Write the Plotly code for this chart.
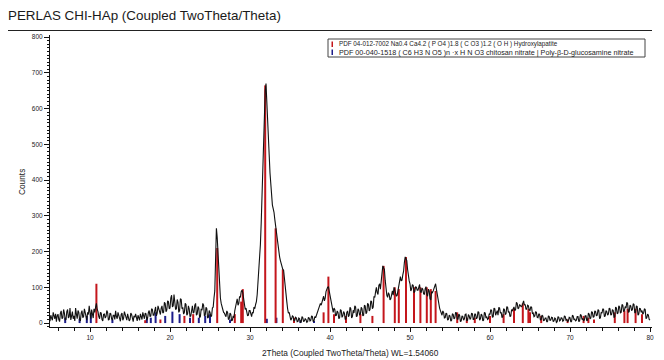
import plotly.graph_objects as go

# Scan start / step (degrees 2-theta) and measured counts, 0.1 deg step, 5-80 deg
two_theta_start = 5.0
two_theta_step = 0.1
counts = [
    5, 22, 14, 8, 30, 18, 12, 26, 4, 20,                 # 5
    25, 10, 4, 28, 34, 12, 15, 38, 28, 8,                # 6
    10, 32, 38, 14, 18, 42, 9, 20, 32, 12,               # 7
    20, 6, 42, 25, 12, 35, 30, 10, 6, 28,                # 8
    35, 15, 18, 40, 28, 12, 8, 30, 24, 48,               # 9
    20, 12, 38, 25, 14, 40, 30, 45, 55, 38,              # 10
    32, 18, 12, 30, 28, 10, 6, 24, 25, 14,               # 11
    18, 35, 30, 8, 10, 28, 26, 12, 8, 22,                # 12
    22, 10, 34, 18, 12, 30, 20, 6, 5, 24,                # 13
    28, 8, 14, 32, 24, 12, 8, 26, 18, 6,                 # 14
    10, 28, 24, 8, 4, 20, 16, 26, 12, 6,                 # 15
    22, 12, 8, 26, 18, 10, 30, 16, 12, 28,               # 16
    26, 8, 14, 30, 35, 18, 20, 40, 38, 22,               # 17
    22, 35, 45, 20, 28, 48, 40, 25, 24, 42,              # 18
    48, 28, 30, 58, 55, 32, 36, 62, 60, 40,              # 19
    42, 70, 78, 45, 48, 80, 62, 38, 40, 66,              # 20
    58, 30, 35, 68, 66, 40, 44, 25, 30, 55,              # 21
    52, 22, 26, 48, 40, 18, 20, 45, 48, 28,              # 22
    30, 50, 55, 22, 25, 46, 42, 15, 18, 40,              # 23
    36, 55, 50, 20, 22, 44, 40, 14, 16, 35,              # 24
    30, 18, 20, 42, 45, 70, 90, 180, 265, 240,           # 25
    200, 140, 95, 70, 55, 42, 38, 30, 28, 22,            # 26
    18, 34, 30, 10, 12, 28, 25, 6, 8, 20,                # 27
    15, 35, 48, 62, 68, 50, 55, 75, 72, 88,              # 28
    92, 85, 70, 52, 38, 42, 30, 20, 22, 35,              # 29
    35, 22, 18, 30, 28, 45, 40, 52, 60, 80,              # 30
    110, 140, 170, 220, 280, 350, 430, 510, 600, 650,    # 31
    670, 610, 540, 500, 470, 420, 380, 350, 330, 320,    # 32
    310, 290, 270, 255, 240, 220, 200, 185, 175, 165,    # 33
    155, 150, 148, 130, 112, 85, 60, 40, 28, 30,         # 34
    22, 8, 12, 20, 18, 5, 8, 16, 14, 4,                  # 35
    5, 14, 12, 2, 3, 18, 15, 4, 6, 12,                   # 36
    10, 2, 4, 16, 14, 6, 8, 20, 18, 4,                   # 37
    6, 18, 15, 22, 28, 35, 40, 48, 55, 50,               # 38
    60, 68, 75, 62, 70, 88, 95, 100, 102, 90,            # 39
    80, 60, 45, 35, 30, 42, 38, 20, 22, 34,              # 40
    30, 12, 15, 38, 35, 16, 20, 32, 28, 10,              # 41
    12, 30, 34, 18, 22, 44, 40, 14, 18, 36,              # 42
    28, 48, 45, 18, 20, 40, 36, 22, 25, 44,              # 43
    40, 20, 22, 50, 48, 26, 30, 55, 52, 34,              # 44
    38, 62, 60, 40, 45, 75, 72, 88, 100, 85,             # 45
    80, 105, 110, 95, 125, 140, 160, 155, 150, 120,      # 46
    95, 78, 72, 85, 80, 65, 68, 88, 90, 78,              # 47
    100, 92, 85, 75, 78, 90, 95, 115, 130, 118,          # 48
    120, 135, 145, 170, 185, 180, 175, 150, 130, 118,    # 49
    110, 90, 95, 108, 105, 85, 88, 102, 100, 92,         # 50
    92, 105, 108, 88, 85, 98, 95, 82, 80, 96,            # 51
    102, 80, 75, 95, 90, 68, 65, 88, 85, 90,             # 52
    95, 105, 110, 95, 80, 65, 55, 42, 35, 28,            # 53
    22, 34, 30, 14, 15, 28, 26, 8, 10, 22,               # 54
    20, 5, 8, 26, 24, 12, 14, 30, 28, 12,                # 55
    10, 25, 22, 4, 6, 20, 18, 8, 12, 24,                 # 56
    25, 6, 8, 24, 20, 10, 14, 28, 26, 10,                # 57
    10, 26, 24, 12, 15, 32, 30, 8, 12, 25,               # 58
    22, 6, 8, 30, 28, 14, 18, 10, 12, 26,                # 59
    24, 38, 35, 16, 18, 42, 40, 22, 28, 35,              # 60
    22, 44, 42, 28, 30, 15, 18, 40, 38, 24,              # 61
    26, 46, 44, 30, 32, 18, 20, 38, 35, 42,              # 62
    45, 35, 38, 58, 55, 40, 42, 52, 50, 46,              # 63
    48, 60, 62, 50, 52, 38, 40, 50, 48, 36,              # 64
    35, 46, 44, 26, 28, 18, 20, 32, 30, 16,              # 65
    15, 26, 24, 8, 10, 22, 20, 6, 8, 14,                 # 66
    14, 3, 5, 20, 18, 7, 9, 16, 15, 4,                   # 67
    6, 14, 12, 2, 4, 18, 16, 6, 8, 15,                   # 68
    14, 5, 7, 20, 18, 8, 10, 4, 6, 16,                   # 69
    15, 3, 5, 22, 20, 9, 11, 6, 8, 18,                   # 70
    18, 4, 6, 24, 22, 10, 12, 7, 9, 20,                  # 71
    20, 6, 8, 28, 25, 12, 14, 32, 30, 16,                # 72
    18, 34, 32, 20, 22, 38, 35, 12, 15, 30,              # 73
    28, 40, 38, 18, 20, 35, 32, 22, 25, 42,              # 74
    40, 22, 24, 38, 35, 15, 18, 45, 42, 26,              # 75
    28, 48, 45, 28, 30, 52, 50, 32, 35, 46,              # 76
    42, 58, 55, 30, 32, 50, 48, 35, 38, 54,              # 77
    52, 28, 30, 48, 46, 22, 25, 42, 40, 30,              # 78
    35, 25, 28, 40, 38, 12, 15, 25, 22, 10,              # 79
    8,                                                   # 80
]
two_theta = [round(two_theta_start + i * two_theta_step, 2) for i in range(len(counts))]

# Reference pattern PDF 04-012-7002 (hydroxylapatite): positions and scaled heights
hap_pos = [10.8, 16.9, 18.8, 21.8, 22.9, 25.9, 28.1, 28.9, 29.1, 31.9, 33.2, 34.1,
           35.5, 39.2, 39.8, 40.5, 42.0, 43.8, 45.3, 46.7, 48.1, 48.6, 49.5, 50.5, 51.3,
           52.1, 52.6, 53.2, 55.9, 57.1, 58.1, 60.0, 61.7, 63.0, 64.1, 64.8, 65.0, 66.4,
           69.7, 71.7, 72.3, 73.0, 75.6, 76.8, 77.2, 78.2, 79.0]
hap_int = [110, 8, 10, 20, 25, 210, 25, 60, 95, 665, 265, 150,
           15, 30, 130, 25, 20, 25, 20, 160, 100, 95, 185, 100, 100,
           100, 95, 90, 30, 15, 15, 20, 25, 40, 55, 40, 30, 20,
           10, 20, 15, 10, 30, 35, 40, 40, 25]

# Reference pattern PDF 00-040-1518 (chitosan nitrate)
chi_pos = [6.9, 8.7, 9.6, 10.1, 12.8, 17.1, 17.6, 18.2, 19.4, 20.3, 21.2, 22.5,
           23.6, 24.4, 25.0, 27.5, 32.1, 33.3, 36.3, 38.0]
chi_int = [15, 12, 20, 25, 10, 12, 15, 30, 20, 32, 25, 15,
           15, 20, 25, 10, 12, 15, 8, 6]

legend_lines = [
    "PDF 04-012-7002 Na0.4 Ca4.2 ( P O4 )1.8 ( C O3 )1.2 ( O H ) Hydroxylapatite",
    "PDF 00-040-1518 ( C6 H3 N O5 )n \u00b7x H N O3 chitosan nitrate | Poly-\u03b2-D-glucosamine nitrate",
]
title_text = "PERLAS CHI-HAp (Coupled TwoTheta/Theta)"
x_title = "2Theta (Coupled TwoTheta/Theta) WL=1.54060"
y_title = "Counts"

FONT = "Liberation Sans, Arial, sans-serif"
RED = "#c4161c"
BLUE = "#1c1c8a"


def sticks(pos, hgt):
    xs, ys = [], []
    for p, h in zip(pos, hgt):
        xs += [p, p, None]
        ys += [0, h, None]
    return xs, ys


fig = go.Figure()
sx, sy = sticks(chi_pos, chi_int)
fig.add_trace(go.Scatter(x=sx, y=sy, mode="lines",
                         line=dict(color=BLUE, width=2), showlegend=False))
sx, sy = sticks(hap_pos, hap_int)
fig.add_trace(go.Scatter(x=sx, y=sy, mode="lines",
                         line=dict(color=RED, width=2), showlegend=False))
fig.add_trace(go.Scatter(x=two_theta, y=counts, mode="lines",
                         line=dict(color="#111111", width=1.1), showlegend=False))

# plot area: x 50..652 px, y 35..327 px
L, R, T, B = 50, 12, 35, 33
W, H = 664, 360
PW, PH = W - L - R, H - T - B


def px_x(px):
    return (px - L) / PW


def px_y(py):
    return (H - B - py) / PH


shapes = [
    # rule under the title
    dict(type="line", xref="paper", yref="paper", x0=px_x(8), x1=px_x(652),
         y0=px_y(30.5), y1=px_y(30.5), line=dict(color="#222", width=1.2)),
    # legend frame
    dict(type="rect", xref="paper", yref="paper", x0=px_x(328), x1=px_x(645),
         y0=px_y(57), y1=px_y(39), line=dict(color="#444", width=1), fillcolor="white"),
    dict(type="rect", xref="paper", yref="paper", x0=px_x(331.5), x1=px_x(333),
         y0=px_y(47), y1=px_y(41.5), line=dict(width=0), fillcolor=RED),
    dict(type="rect", xref="paper", yref="paper", x0=px_x(331.5), x1=px_x(333),
         y0=px_y(55), y1=px_y(49.5), line=dict(width=0), fillcolor=BLUE),
]

annotations = [
    dict(xref="paper", yref="paper", x=px_x(337), y=px_y(44.3), xanchor="left",
         yanchor="middle", text=legend_lines[0], showarrow=False,
         font=dict(family=FONT, size=6.3, color="#222")),
    dict(xref="paper", yref="paper", x=px_x(337), y=px_y(52.3), xanchor="left",
         yanchor="middle", text=legend_lines[1], showarrow=False,
         font=dict(family=FONT, size=7.2, color="#222")),
    # axis titles
    dict(xref="paper", yref="paper", x=px_x(350), y=px_y(352.5), xanchor="center",
         yanchor="middle", text=x_title, showarrow=False,
         font=dict(family=FONT, size=8.3, color="#1a1a1a")),
    dict(xref="paper", yref="paper", x=px_x(22), y=px_y(182), xanchor="center",
         yanchor="middle", text=y_title, showarrow=False, textangle=-90,
         font=dict(family=FONT, size=8.3, color="#1a1a1a")),
]

fig.update_layout(
    width=W, height=H,
    margin=dict(l=L, r=R, t=T, b=B),
    paper_bgcolor="white", plot_bgcolor="white",
    title=dict(text=title_text, x=8 / W, xanchor="left", y=1 - 15 / H, yanchor="middle",
               font=dict(family=FONT, size=13.4, color="#1a1a1a")),
    shapes=shapes, annotations=annotations,
    xaxis=dict(range=[5, 80.25], showgrid=False, zeroline=False, automargin=False,
               showline=True, linecolor="#111", linewidth=1,
               tickmode="linear", tick0=0, dtick=10, ticks="outside", ticklen=4,
               tickcolor="#111", tickfont=dict(family=FONT, size=6.5, color="#222"),
               minor=dict(dtick=2, ticklen=2.5, ticks="outside", tickcolor="#111")),
    yaxis=dict(range=[-11, 806], showgrid=False, zeroline=False, automargin=False,
               showline=True, linecolor="#111", linewidth=1,
               tickmode="linear", tick0=0, dtick=100, ticks="outside", ticklen=5,
               tickcolor="#111", tickfont=dict(family=FONT, size=6.5, color="#222"),
               minor=dict(dtick=10, ticklen=2.5, ticks="outside", tickcolor="#111")),
)

fig.write_html("out.html")
